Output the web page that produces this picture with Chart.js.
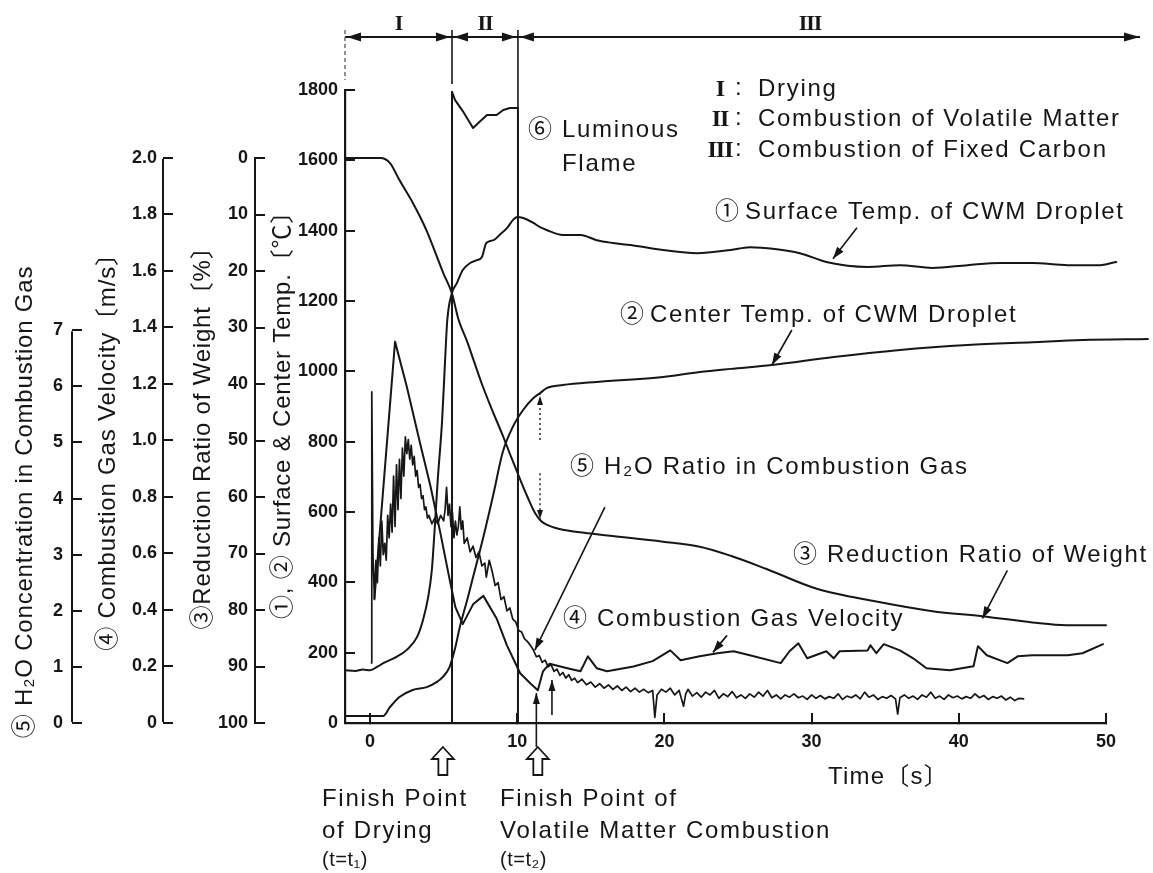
<!DOCTYPE html>
<html>
<head>
<meta charset="utf-8">
<script src="https://cdn.jsdelivr.net/npm/chart.js@4.4.1/dist/chart.umd.min.js"></script>
<style>
  html, body { margin: 0; padding: 0; background: #fff; }
  canvas { display: block; }
</style>
</head>
<body>
<canvas id="c" width="1153" height="873"></canvas>
<script>
// ---- tick labels ----------------------------------------------------------
const timeTicks = [0, 10, 20, 30, 40, 50];
const tempTicks = [0, 200, 400, 600, 800, 1000, 1200, 1400, 1600, 1800];
const reductionTicks = [0, 10, 20, 30, 40, 50, 60, 70, 80, 90, 100];
const velocityTicks = [0, 0.2, 0.4, 0.6, 0.8, 1.0, 1.2, 1.4, 1.6, 1.8, 2.0];
const h2oTicks = [0, 1, 2, 3, 4, 5, 6, 7];

// phase boundaries [s]
const T_DRY_END = 5.57;   // t1: end of drying
const T_VOL_END = 10.05;  // t2: end of volatile matter combustion

// ---- series: [time s, value] ----------------------------------------------
// (1) surface temperature of the CWM droplet [deg C]
const surfaceTemp = [
  [-1.7,150],[-1.0,148],[-0.5,152],[0.0,150],[0.5,160],[0.9,170],[1.4,180],[1.8,188],
  [2.5,208],[3.2,245],[3.6,293],[3.95,358],[4.2,435],[4.4,557],[4.6,691],[4.9,862],
  [5.1,1032],[5.25,1146],[5.57,1223],[5.9,1251],[6.3,1288],[6.8,1308],[7.25,1316],[7.6,1325],
  [7.9,1365],[8.4,1373],[8.8,1388],[9.3,1407],[9.7,1430],[10.0,1439],[10.4,1436],[11.1,1422],
  [11.55,1410],[12.0,1402],[13.1,1388],[14.3,1388],[15.4,1373],[16.5,1365],[17.7,1359],[19.9,1345],
  [22.2,1336],[24.5,1345],[25.8,1353],[27.5,1348],[29.2,1336],[31.0,1311],[33.8,1297],[36.0,1302],
  [38.2,1294],[40.6,1302],[42.8,1308],[45.0,1308],[47.4,1302],[49.6,1302],[50.7,1311],[51.8,1314]
];
// (2) center temperature of the CWM droplet [deg C]
const centerTemp = [
  [-1.7,20],[0.0,20],[0.9,20],[1.35,45],[2.0,74],[2.9,94],[3.85,102],[4.55,117],[4.95,131],
  [5.4,159],[5.8,216],[6.1,273],[6.6,350],[7.0,415],[7.7,529],[8.4,654],[9.0,768],[9.7,842],
  [10.4,890],[11.1,924],[11.55,938],[12.0,952],[13.1,961],[15.4,970],[19.9,984],[22.4,998],
  [24.5,1007],[27.3,1018],[31.5,1041],[36.0,1061],[40.6,1075],[45.0,1083],[48.4,1089],[52.85,1092]
];
// (3) reduction ratio of weight [%]
const weightLoss = [
  [-1.7,0],[0.0,0],[0.7,0],[1.36,0.9],[2.0,3.9],[2.9,7.9],[3.4,10.4],[3.9,13.2],[4.55,17.5],
  [5.0,20.5],[5.57,24.0],[6.0,28.5],[6.6,32.5],[7.0,35.5],[7.6,40],[8.2,44],[9.0,49],[9.6,53],
  [10.0,55.6],[10.7,60],[11.2,62.8],[11.6,64.2],[12.0,64.9],[12.5,65.4],[13.1,65.8],[15.4,66.6],
  [19.9,67.9],[22.4,68.8],[24.5,70.4],[26.9,72.7],[30.3,76.2],[34.4,78.5],[38.2,80.2],[41.6,81.1],
  [45.0,82.2],[47.3,82.7],[50.0,82.7]
];
// (4) combustion gas velocity [m/s]
const gasVelocity = [
  [0.3,0.44],[1.7,1.35],[2.5,1.19],[3.4,0.99],[4.1,0.84],[4.75,0.68],[5.4,0.51],[5.8,0.41],
  [6.3,0.35],[7.0,0.42],[7.7,0.45],[8.6,0.37],[9.3,0.275],[10.2,0.176],[10.9,0.14],[11.4,0.116],
  [11.75,0.183],[12.2,0.21],[13.4,0.194],[14.3,0.183],[14.8,0.236],[15.4,0.194],[16.1,0.183],
  [17.9,0.2],[19.2,0.219],[20.4,0.257],[21.1,0.222],[22.4,0.236],[23.6,0.247],[24.7,0.254],
  [25.8,0.24],[27.9,0.212],[28.5,0.254],[29.1,0.282],[29.7,0.229],[31.0,0.254],[31.5,0.229],
  [31.9,0.254],[33.8,0.257],[34.0,0.275],[34.4,0.247],[34.9,0.279],[36.0,0.257],[36.9,0.229],
  [37.8,0.194],[39.4,0.187],[41.0,0.201],[41.3,0.272],[41.9,0.24],[43.3,0.212],[44.0,0.236],
  [45.0,0.24],[47.4,0.24],[48.4,0.247],[49.8,0.279]
];
// (5) H2O concentration in combustion gas
const h2oRatio = [
  [0.10,1.07],[0.12,5.90],[0.20,3.0],[0.30,2.20],[0.40,2.9],[0.50,2.5],[0.60,3.3],[0.70,2.8],
  [0.80,3.6],[0.90,3.0],[1.00,3.2],[1.10,2.9],[1.20,3.7],[1.30,3.3],[1.40,3.9],[1.50,3.4],
  [1.60,4.4],[1.70,3.5],[1.80,4.6],[1.90,3.8],[2.00,4.7],[2.10,4.0],[2.20,4.9],[2.30,4.4],
  [2.40,5.1],[2.50,4.8],[2.60,5.05],[2.70,4.7],[2.80,4.95],[2.90,4.6],[3.00,4.75],[3.10,4.4],
  [3.20,4.5],[3.30,4.2],[3.40,4.25],[3.50,4.0],[3.60,4.05],[3.70,3.8],[3.80,3.85],[3.90,3.65],
  [4.00,3.7],[4.20,3.55],[4.40,3.65],[4.60,3.55],[4.80,3.7],[5.00,3.6],[5.10,3.8],[5.20,4.2],
  [5.30,3.7],[5.40,3.9],[5.50,3.5],[5.60,3.75],[5.70,3.3],[5.80,3.6],[5.90,3.35],[6.00,3.5],
  [6.10,3.85],[6.20,3.45],[6.30,3.6],[6.40,3.2],[6.60,3.3],[6.80,3.05],[7.00,3.15],[7.20,2.95],
  [7.40,3.05],[7.60,2.8],[7.80,2.85],[7.90,2.6],[8.10,2.9],[8.30,2.7],[8.50,2.45],[8.70,2.5],
  [8.90,2.2],[9.10,2.25],[9.30,2.0],[9.50,2.05],[9.70,1.85],[9.90,1.8],[10.10,1.65],[10.30,1.62],
  [10.50,1.5],[10.70,1.45],[10.90,1.38],[11.10,1.3],[11.30,1.18],[11.50,1.2],[11.70,1.08],[11.90,1.12],
  [12.10,1.0],[12.30,1.04],[12.50,0.92],[12.70,0.96],[12.90,0.85],[13.10,0.9],[13.30,0.8],[13.50,0.86],
  [13.70,0.76],[13.90,0.8],[14.10,0.72],[14.40,0.78],[14.70,0.68],[15.00,0.73],[15.30,0.64],[15.60,0.7],
  [15.90,0.62],[16.20,0.68],[16.50,0.6],[16.80,0.66],[17.10,0.58],[17.40,0.64],[17.70,0.56],[18.00,0.62],
  [18.30,0.55],[18.60,0.6],[18.90,0.54],[19.20,0.58],[19.35,0.1],[19.50,0.5],[19.80,0.6],[20.10,0.55],
  [20.40,0.62],[20.70,0.5],[21.00,0.58],[21.30,0.3],[21.45,0.52],[21.60,0.6],[21.90,0.48],[22.20,0.54],
  [22.50,0.46],[22.80,0.55],[23.10,0.5],[23.40,0.58],[23.70,0.44],[24.00,0.52],[24.30,0.47],[24.60,0.56],
  [24.90,0.45],[25.20,0.5],[25.50,0.44],[25.80,0.52],[26.10,0.46],[26.40,0.55],[26.70,0.48],[27.00,0.58],
  [27.30,0.45],[27.60,0.5],[27.90,0.43],[28.20,0.5],[28.50,0.46],[28.80,0.52],[29.10,0.45],[29.40,0.48],
  [29.70,0.42],[30.00,0.5],[30.30,0.44],[30.60,0.49],[30.90,0.43],[31.20,0.47],[31.50,0.44],[31.80,0.52],
  [32.10,0.42],[32.40,0.48],[32.70,0.45],[33.00,0.5],[33.30,0.43],[33.60,0.55],[33.90,0.46],[34.20,0.5],
  [34.50,0.42],[34.80,0.47],[35.10,0.44],[35.40,0.49],[35.70,0.43],[35.85,0.16],[36.00,0.45],[36.30,0.5],
  [36.60,0.44],[36.90,0.48],[37.20,0.42],[37.50,0.5],[37.80,0.46],[38.10,0.55],[38.40,0.44],[38.70,0.48],
  [39.00,0.42],[39.30,0.5],[39.60,0.45],[39.90,0.48],[40.20,0.43],[40.50,0.47],[40.80,0.44],[41.10,0.52],
  [41.40,0.45],[41.70,0.49],[42.00,0.42],[42.30,0.47],[42.60,0.44],[42.90,0.48],[43.20,0.41],[43.50,0.46],
  [43.80,0.4],[44.10,0.44],[44.40,0.43]
];
// (6) luminous flame, plotted on the temperature scale
const flame = [
  [5.57,0],[5.57,1795],[5.78,1771],[6.3,1740],[7.0,1692],[7.5,1712],[7.95,1729],[8.6,1729],
  [9.05,1743],[9.5,1749],[10.05,1749],[10.05,0]
];

// ---- styling ---------------------------------------------------------------
const INK = '#161616';
const FONT = "'Liberation Sans', Arial, 'Noto Sans CJK JP', sans-serif";
const CJK = "'Noto Sans CJK JP', 'Liberation Sans', sans-serif";
const SERIF = "'Liberation Serif', 'DejaVu Serif', serif";

const toXY = pairs => pairs.map(([x, y]) => ({ x, y }));
const fixTicks = list => scale => { scale.ticks = list.map(v => ({ value: v })); };
const plain = v => String(v);

function yScale(opts) {
  return Object.assign({
    type: 'linear',
    position: 'left',
    grid: { display: true, drawOnChartArea: false, drawTicks: true, tickLength: -10, color: INK, lineWidth: 2 },
    border: { display: false },
    ticks: { color: INK, font: { family: FONT, size: 18, weight: 'bold' }, padding: 17, autoSkip: false, callback: plain }
  }, opts);
}

// ---- drawing helpers ------------------------------------------------------
function seg(ctx, x1, y1, x2, y2) {
  ctx.beginPath(); ctx.moveTo(x1, y1); ctx.lineTo(x2, y2); ctx.stroke();
}
function head(ctx, x1, y1, x2, y2, len = 12, half = 4.2) {
  const a = Math.atan2(y2 - y1, x2 - x1);
  const c = Math.cos(a), s = Math.sin(a);
  ctx.beginPath();
  ctx.moveTo(x2, y2);
  ctx.lineTo(x2 - len * c - half * s, y2 - len * s + half * c);
  ctx.lineTo(x2 - len * c + half * s, y2 - len * s - half * c);
  ctx.closePath(); ctx.fill();
}
function arrow(ctx, x1, y1, x2, y2, len, half) {
  seg(ctx, x1, y1, x2, y2);
  head(ctx, x1, y1, x2, y2, len, half);
}
function label(ctx, s, x, y, size = 24, spacing = 1.7, family = FONT, align = 'left', weight = 'normal') {
  ctx.font = `${weight} ${size}px ${family}`;
  ctx.letterSpacing = spacing + 'px';
  ctx.textAlign = align;
  ctx.textBaseline = 'alphabetic';
  ctx.fillText(s, x, y);
  ctx.letterSpacing = '0px';
}
function hollowUp(ctx, x, yTip) {
  const h = 28, hh = 12, hw = 11, sw = 4.5;
  ctx.beginPath();
  ctx.moveTo(x, yTip);
  ctx.lineTo(x + hw, yTip + hh);
  ctx.lineTo(x + sw, yTip + hh);
  ctx.lineTo(x + sw, yTip + h);
  ctx.lineTo(x - sw, yTip + h);
  ctx.lineTo(x - sw, yTip + hh);
  ctx.lineTo(x - hw, yTip + hh);
  ctx.closePath(); ctx.stroke();
}

// annotation callouts: circled mark + text, arrow tip placed on a curve
const callouts = [
  { mark: '①', text: 'Surface Temp. of CWM Droplet', mx: 727, tx: 745, cy: 210, axis: 'yT', t: 31.45, v: 1320, dx: 24, dy: -31 },
  { mark: '②', text: 'Center Temp. of CWM Droplet', mx: 632, tx: 650, cy: 313, axis: 'yT', t: 27.3, v: 1018, dx: 20, dy: -35 },
  { mark: '⑤', text: 'H₂O Ratio in Combustion Gas', mx: 582, tx: 604, cy: 465, axis: 'yH', t: 11.2, v: 1.3, dx: 70, dy: -143 },
  { mark: '③', text: 'Reduction Ratio of Weight', mx: 805, tx: 827, cy: 553, axis: 'yR', t: 41.6, v: 81.5, dx: 25, dy: -48 },
  { mark: '④', text: 'Combustion Gas Velocity', mx: 575, tx: 597, cy: 617, axis: 'yV', t: 23.3, v: 0.25, dx: 14, dy: -17 }
];

const axisTitles = [
  { id: 'yH', text: '⑤ H₂O Concentration in Combustion Gas', dx: 32, cy: 502 },
  { id: 'yV', text: '④ Combustion Gas Velocity〔m/s〕', dx: 43, cy: 446 },
  { id: 'yR', text: '③Reduction Ratio of Weight〔%〕', dx: 47, cy: 432 },
  { id: 'yT', text: '①, ② Surface & Center Temp.〔℃〕', dx: 35, cy: 409 }
];

const phaseLegend = [
  { num: 'I', text: 'Drying', cy: 87 },
  { num: 'II', text: 'Combustion of Volatile Matter', cy: 117 },
  { num: 'III', text: 'Combustion of Fixed Carbon', cy: 148 }
];

const decor = {
  id: 'decor',
  afterDraw(chart) {
    const { ctx, scales } = chart;
    const { x, yT, yR, yV, yH } = scales;
    const px = t => x.getPixelForValue(t);
    ctx.save();
    ctx.strokeStyle = INK;
    ctx.fillStyle = INK;
    ctx.lineWidth = 2;
    ctx.lineCap = 'butt';

    // spines of the detached scales
    [[yR, 0, 100], [yV, 0, 2], [yH, 0, 7]].forEach(([s, a, b]) => {
      const xx = Math.round(s.right);
      seg(ctx, xx, s.getPixelForValue(a) - 1, xx, s.getPixelForValue(b) + 1);
    });

    // rotated axis titles
    axisTitles.forEach(a => {
      const s = scales[a.id];
      ctx.save();
      ctx.translate(s.left + a.dx, a.cy);
      ctx.rotate(-Math.PI / 2);
      label(ctx, a.text, 0, 0, 24, 0.8, FONT, 'center');
      ctx.restore();
    });

    // phase bracket above the plot
    const x0 = x.left, x1 = px(T_DRY_END), x2 = px(T_VOL_END), xe = 1140, yb = 37;
    seg(ctx, x0, yb, xe, yb);
    head(ctx, x0 + 14, yb, x0 + 2, yb, 14, 4.5);
    head(ctx, x1 - 14, yb, x1 - 2, yb, 14, 4.5);
    head(ctx, x1 + 14, yb, x1 + 2, yb, 14, 4.5);
    head(ctx, x2 - 14, yb, x2 - 2, yb, 14, 4.5);
    head(ctx, x2 + 14, yb, x2 + 2, yb, 14, 4.5);
    head(ctx, xe - 16, yb, xe, yb, 16, 4.5);
    ctx.lineWidth = 1.6;
    seg(ctx, x1, 30, x1, 84);
    seg(ctx, x2, 30, x2, yT.getPixelForValue(1749));
    ctx.save();
    ctx.setLineDash([4, 3]);
    ctx.strokeStyle = '#777';
    seg(ctx, x0, 30, x0, 80);
    ctx.restore();
    label(ctx, 'I', (x0 + x1) / 2, 30, 22, -1, SERIF, 'center', 'bold');
    label(ctx, 'II', (x1 + x2) / 2, 30, 22, -1, SERIF, 'center', 'bold');
    label(ctx, 'III', 810, 30, 22, -1, SERIF, 'center', 'bold');

    // phase legend
    phaseLegend.forEach(p => {
      label(ctx, p.num, 720, p.cy + 9, 24, -1, SERIF, 'center', 'bold');
      label(ctx, ':', 735, p.cy + 8, 24, 0);
      label(ctx, p.text, 758, p.cy + 8.5);
    });

    // luminous flame label
    label(ctx, '⑥', 540, 128 + 8.5, 24, 0, CJK, 'center');
    label(ctx, 'Luminous', 562, 128 + 8.5);
    label(ctx, 'Flame', 562, 162 + 8.5);

    // curve callouts
    ctx.lineWidth = 1.6;
    callouts.forEach(c => {
      label(ctx, c.mark, c.mx, c.cy + 8.5, 24, 0, CJK, 'center');
      label(ctx, c.text, c.tx, c.cy + 8.5);
      const tx = px(c.t), ty = scales[c.axis].getPixelForValue(c.v);
      arrow(ctx, tx + c.dx, ty + c.dy, tx, ty, 12, 4);
    });

    // gap markers between center temperature and weight curves at t2
    ctx.save();
    ctx.setLineDash([2, 3]);
    ctx.lineWidth = 1.4;
    const xg = px(11.55);
    seg(ctx, xg, yT.getPixelForValue(805), xg, yT.getPixelForValue(935));
    seg(ctx, xg, yT.getPixelForValue(710), xg, yT.getPixelForValue(575));
    ctx.restore();
    head(ctx, xg, yT.getPixelForValue(880), xg, yT.getPixelForValue(930), 9, 3);
    head(ctx, xg, yT.getPixelForValue(640), xg, yT.getPixelForValue(580), 9, 3);

    // small pointers near t2 on the time axis
    ctx.lineWidth = 1.6;
    arrow(ctx, px(11.3), yT.getPixelForValue(-68), px(11.3), yT.getPixelForValue(85), 11, 3.5);
    arrow(ctx, px(12.36), yT.getPixelForValue(23), px(12.36), yT.getPixelForValue(122), 11, 3.5);

    // hollow arrows and finish-point notes
    ctx.lineWidth = 1.8;
    hollowUp(ctx, px(4.95), 747);
    hollowUp(ctx, px(11.4), 747);
    label(ctx, 'Finish Point', 322, 806);
    label(ctx, 'of Drying', 322, 838);
    label(ctx, '(t=t₁)', 322, 866, 20, 0.5);
    label(ctx, 'Finish Point of', 500, 806);
    label(ctx, 'Volatile Matter Combustion', 500, 838);
    label(ctx, '(t=t₂)', 500, 866, 20, 0.5);

    // time axis title
    label(ctx, 'Time〔s〕', 828, 784, 24, 1.2);

    ctx.restore();
  }
};

new Chart(document.getElementById('c'), {
  type: 'line',
  data: {
    datasets: [
      { label: '① Surface Temp. of CWM Droplet', data: toXY(surfaceTemp), yAxisID: 'yT', cubicInterpolationMode: 'monotone' },
      { label: '② Center Temp. of CWM Droplet', data: toXY(centerTemp), yAxisID: 'yT', cubicInterpolationMode: 'monotone' },
      { label: '③ Reduction Ratio of Weight', data: toXY(weightLoss), yAxisID: 'yR', cubicInterpolationMode: 'monotone' },
      { label: '④ Combustion Gas Velocity', data: toXY(gasVelocity), yAxisID: 'yV' },
      { label: '⑤ H₂O Ratio in Combustion Gas', data: toXY(h2oRatio), yAxisID: 'yH', borderWidth: 1.7 },
      { label: '⑥ Luminous Flame', data: toXY(flame), yAxisID: 'yT' }
    ].map(d => Object.assign({ borderColor: INK, borderWidth: 2, pointRadius: 0, tension: 0, clip: false,
                                borderJoinStyle: 'round', borderCapStyle: 'round', fill: false }, d))
  },
  options: {
    responsive: false,
    animation: false,
    devicePixelRatio: 1,
    layout: { padding: { left: 0, top: 90, right: 47, bottom: 110 } },
    plugins: { legend: { display: false }, tooltip: { enabled: false } },
    scales: {
      x: {
        type: 'linear', position: 'bottom', min: -1.7, max: 50,
        afterBuildTicks: fixTicks(timeTicks),
        afterFit: s => { s.height = 40; },
        grid: { display: true, drawOnChartArea: false, drawTicks: true, tickLength: -10, color: INK, lineWidth: 2 },
        border: { display: true, color: INK, width: 2.2 },
        ticks: { color: INK, font: { family: FONT, size: 18, weight: 'bold' }, padding: 18, maxRotation: 0, autoSkip: false, callback: plain }
      },
      yT: yScale({
        weight: 0, min: 0, max: 1800,
        afterBuildTicks: fixTicks(tempTicks),
        afterFit: s => { s.width = 90; },
        border: { display: true, color: INK, width: 2.2 }
      }),
      yR: yScale({
        weight: 1, min: -12.04, max: 100, reverse: true,
        afterBuildTicks: fixTicks(reductionTicks),
        afterFit: s => { s.width = 92; }
      }),
      yV: yScale({
        weight: 2, min: 0, max: 2.2407,
        afterBuildTicks: fixTicks(velocityTicks),
        afterFit: s => { s.width = 91; },
        ticks: { color: INK, font: { family: FONT, size: 18, weight: 'bold' }, padding: 16, autoSkip: false,
                 callback: v => (v === 0 ? '0' : v.toFixed(1)) }
      }),
      yH: yScale({
        weight: 3, min: 0, max: 11.28,
        afterBuildTicks: fixTicks(h2oTicks),
        afterFit: s => { s.width = 72; },
        ticks: { color: INK, font: { family: FONT, size: 18, weight: 'bold' }, padding: 19, autoSkip: false, callback: plain }
      })
    }
  },
  plugins: [decor]
});
</script>
</body>
</html>
